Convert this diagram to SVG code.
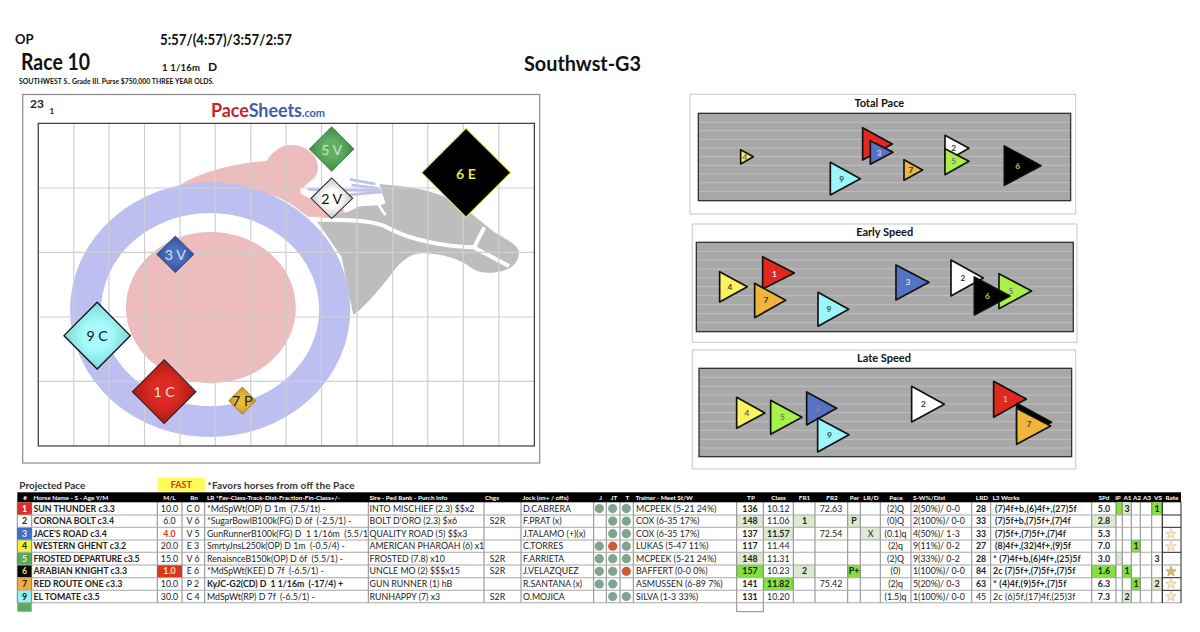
<svg xmlns="http://www.w3.org/2000/svg" width="1200" height="632" viewBox="0 0 1200 632" fill="#222">
<style>
text{font-family:Lato,"Open Sans","Liberation Sans",sans-serif;white-space:pre}
.b{font-weight:700}
.h text{fill:#fff;font-weight:700;font-size:6.4px}
.c{text-anchor:middle}
.r text{font-size:8.8px}
.panel{fill:#fff;stroke:#d4d4d4;stroke-width:4}
.plot{fill:#a8a8a8;stroke:#333;stroke-width:4}
.pl{fill:none;stroke:#c0c0c0;stroke-width:3}
.tri polygon{stroke:#111;stroke-width:5;stroke-linejoin:round}
.tri text{font-size:25px;text-anchor:middle;font-weight:700}
.ttl{font-size:33px;font-weight:700;text-anchor:middle;fill:#111}
.dm text{font-size:42px;text-anchor:middle}
.dm polygon{stroke-linejoin:miter}
.dot{fill:#7fa590}
.red{fill:#cf5a35}
.lg{fill:#dde9d2}
.bg{fill:#82e040}
.star{fill:#f8ecc8;stroke:#c9b98a;stroke-width:.6}
</style>
<defs>
<radialGradient id="g5"><stop offset=".4" stop-color="#62ae62"/><stop offset="1" stop-color="#3c8a44"/></radialGradient>
<radialGradient id="g2"><stop offset=".4" stop-color="#fff"/><stop offset="1" stop-color="#c4c4c4"/></radialGradient>
<radialGradient id="g3"><stop offset=".4" stop-color="#4a6fbc"/><stop offset="1" stop-color="#2f4f98"/></radialGradient>
<radialGradient id="g9"><stop offset=".4" stop-color="#a6fcfc"/><stop offset="1" stop-color="#7fd6d8"/></radialGradient>
<radialGradient id="g1"><stop offset=".4" stop-color="#dd2a22"/><stop offset="1" stop-color="#a81a16"/></radialGradient>
<radialGradient id="g7"><stop offset=".4" stop-color="#e9b93c"/><stop offset="1" stop-color="#c09428"/></radialGradient>
<polygon id="star" points="0,-5.4 1.4,-1.7 5.3,-1.7 2.2,.7 3.3,4.4 0,2.2 -3.3,4.4 -2.2,.7 -5.3,-1.7 -1.4,-1.7"/>
</defs>
<rect width="1200" height="632" fill="#fff"/>

<g id="header" fill="#111">
<text x="15" y="44" class="b" font-size="13">OP</text>
<text x="160" y="45" class="b" font-size="14.5" textLength="132" lengthAdjust="spacingAndGlyphs">5:57/(4:57)/3:57/2:57</text>
<text x="21" y="70" class="b" font-size="22" textLength="69" lengthAdjust="spacingAndGlyphs">Race 10</text>
<text x="162" y="70.5" class="b" font-size="9.5" textLength="38">1 1/16m</text>
<text x="208" y="70.5" class="b" font-size="12">D</text>
<text x="19" y="84.3" class="b" font-size="6.6" textLength="195" lengthAdjust="spacingAndGlyphs">SOUTHWEST S.. Grade III. Purse $750,000 THREE YEAR OLDS.</text>
<text x="524" y="71" class="b" font-size="20" textLength="117" lengthAdjust="spacingAndGlyphs">Southwst-G3</text>
</g>

<g id="pace-chart">
<rect x="22.7" y="94.5" width="517" height="368.5" fill="#fff" stroke="#8a8a8a" stroke-width="1.2"/>
<text x="30" y="108" class="b" font-size="12">23</text>
<text x="49.5" y="114" class="b" font-size="8">1</text>
<text x="211" y="117" class="b" font-size="18" textLength="114"><tspan fill="#c8242c">Pace</tspan><tspan fill="#3f5ea8">Sheets</tspan><tspan fill="#3f5ea8" font-size="11">.com</tspan></text>
<g transform="translate(20 90) scale(.3384 .3333)">
<rect x="54" y="100" width="1466" height="968" fill="#fff"/>
<path fill="#edbcbc" d="M465,290C540,240 640,220 730,212C740,190 770,165 800,164C850,165 885,200 880,240C878,262 860,270 845,285L828,298L830,312C860,330 900,340 925,335C945,340 965,360 960,382L850,380C800,340 760,310 700,310L560,310Z"/>
<path fill="#bdbdbd" d="M1062,282C1120,288 1180,290 1250,318C1310,345 1350,385 1400,425C1430,445 1465,460 1473,480C1478,510 1460,530 1435,540C1400,552 1360,552 1335,535C1300,505 1240,490 1190,490C1150,490 1125,515 1095,555C1060,600 1020,650 985,675L950,500L885,405L870,385C920,380 970,370 1000,350C1040,345 1060,350 1080,340Z"/>
<g fill="none" stroke="#fff" stroke-width="12"><path d="M850,388C940,392 1040,385 1090,415C1150,450 1260,470 1340,472L1445,528"/><path d="M1372,412L1340,476"/><path d="M1060,345L1080,375" stroke-width="8"/></g>
<g fill="none" stroke="#bcbff0" stroke-width="8"><path d="M975,268L1050,282"/><path d="M850,298L1065,302"/><path d="M970,315L1075,305"/><path d="M980,285L1060,295"/></g>
<ellipse cx="562" cy="659" rx="368" ry="336" fill="none" stroke="#bcbff0" stroke-width="92"/>
<ellipse cx="564" cy="653" rx="251" ry="227" fill="#edbcbc"/>
<path fill="none" stroke="#cfcfcf" stroke-width="3.5" d="M159,100V1068M263,100V1068M368,100V1068M473,100V1068M577,100V1068M682,100V1068M786,100V1068M891,100V1068M996,100V1068M1101,100V1068M1205,100V1068M1310,100V1068M1415,100V1068M54,294H1520M54,487H1520M54,681H1520M54,874H1520"/>
<rect x="54" y="100" width="1466" height="968" fill="none" stroke="#333" stroke-width="3.5"/>
<g id="d5" class="dm"><polygon points="921,110 987,177 921,244 855,177" fill="url(#g5)" stroke="#2f6a36" stroke-width="2"/><text x="921" y="194" fill="#c9e4c9">5 V</text></g>
<g id="d2" class="dm"><polygon points="921,264 983,325 921,386 860,325" fill="url(#g2)" stroke="#222" stroke-width="3"/><text x="921" y="342" fill="#111">2 V</text></g>
<g id="d6" class="dm"><polygon points="1318,115 1450,248 1318,381 1187,248" fill="#000" stroke="#e6e65a" stroke-width="3"/><text x="1318" y="266" fill="#e8de5a" font-weight="700">6 E</text></g>
<g id="d3" class="dm"><polygon points="459,438 514,493 459,548 404,493" fill="url(#g3)" stroke="#243c74" stroke-width="2"/><text x="459" y="510" fill="#d8e2f4">3 V</text></g>
<g id="d9" class="dm"><polygon points="228,637 326,737 228,837 130,737" fill="url(#g9)" stroke="#111" stroke-width="4"/><text x="228" y="754" fill="#111">9 C</text></g>
<g id="d1" class="dm"><polygon points="426,809 520,905 426,1001 332,905" fill="url(#g1)" stroke="#222" stroke-width="3"/><text x="426" y="922" fill="#f4dcdc">1 C</text></g>
<g id="d7" class="dm"><polygon points="657,891 697,932 657,973 617,932" fill="url(#g7)" stroke="#8a6a1e" stroke-width="2"/><text x="657" y="948" fill="#222">7 P</text></g>
</g>
</g>

<g id="total-pace" transform="translate(685 90) scale(.3333)">
<rect class="panel" x="15" y="13" width="1157" height="359"/>
<text class="ttl" x="583" y="50">Total Pace</text>
<rect class="plot" x="40" y="70" width="1117" height="262"/>
<path class="pl" d="M42,97H1155M42,122H1155M42,148H1155M42,174H1155M42,200H1155M42,226H1155M42,252H1155M42,278H1155M42,305H1155"/>
<g class="tri">
<g><polygon points="167,179 167,222 205,200" fill="#fbf35e"/><text x="180" y="209" fill="#666">4</text></g>
<g><polygon points="533,113 533,210 622,162" fill="#e0281f"/><text x="565" y="171" fill="#eee">1</text></g>
<g><polygon points="556,152 556,223 624,187" fill="#5573c4"/><text x="582" y="197" fill="#ccc">3</text></g>
<g><polygon points="780,136 780,215 852,175" fill="#fff"/><text x="806" y="184" fill="#333">2</text></g>
<g><polygon points="780,176 780,254 852,214" fill="#a8f04a"/><text x="806" y="223" fill="#777">5</text></g>
<g><polygon points="958,168 958,286 1068,227" fill="#000"/><text x="998" y="236" fill="#d4c838">6</text></g>
<g><polygon points="657,209 657,271 713,240" fill="#f0b63c"/><text x="678" y="249" fill="#333">7</text></g>
<g><polygon points="436,217 436,315 526,266" fill="#9af7fb"/><text x="470" y="275" fill="#444">9</text></g>
</g>
</g>

<g id="early-speed" transform="translate(685 220) scale(.3333)">
<rect class="panel" x="22" y="12" width="1154" height="355"/>
<text class="ttl" x="599" y="47">Early Speed</text>
<rect class="plot" x="34" y="67" width="1131" height="268"/>
<path class="pl" d="M36,94H1163M36,120H1163M36,147H1163M36,174H1163M36,200H1163M36,227H1163M36,254H1163M36,281H1163M36,308H1163"/>
<g class="tri">
<g><polygon points="104,155 104,246 187,200" fill="#fbf35e"/><text x="135" y="209" fill="#444">4</text></g>
<g><polygon points="233,110 233,207 328,159" fill="#e0281f"/><text x="268" y="170" fill="#eee">1</text></g>
<g><polygon points="209,190 209,293 302,241" fill="#f0b63c"/><text x="243" y="250" fill="#333">7</text></g>
<g><polygon points="399,217 399,319 491,268" fill="#9af7fb"/><text x="432" y="277" fill="#444">9</text></g>
<g><polygon points="633,135 633,240 732,187" fill="#5573c4"/><text x="669" y="196" fill="#ddd">3</text></g>
<g><polygon points="798,120 798,228 895,174" fill="#fff"/><text x="834" y="183" fill="#333">2</text></g>
<g><polygon points="942,161 942,266 1040,213" fill="#a8f04a"/><text x="978" y="222" fill="#777">5</text></g>
<g><polygon points="868,171 868,285 975,228" fill="#000"/><text x="907" y="237" fill="#d4c838">6</text></g>
</g>
</g>

<g id="late-speed" transform="translate(685 345) scale(.3333)">
<rect class="panel" x="22" y="15" width="1150" height="357"/>
<text class="ttl" x="597" y="50">Late Speed</text>
<rect class="plot" x="42" y="70" width="1118" height="265"/>
<path class="pl" d="M44,97H1158M44,124H1158M44,150H1158M44,177H1158M44,203H1158M44,230H1158M44,256H1158M44,283H1158M44,309H1158"/>
<g class="tri">
<g><polygon points="155,157 155,250 240,204" fill="#fbf35e"/><text x="186" y="213" fill="#666">4</text></g>
<g><polygon points="257,166 257,268 351,217" fill="#a8f04a"/><text x="292" y="226" fill="#777">5</text></g>
<g><polygon points="365,141 365,240 455,190" fill="#5573c4"/><text x="397" y="199" fill="#888">3</text></g>
<g><polygon points="398,219 398,321 492,269" fill="#9af7fb"/><text x="433" y="278" fill="#444">9</text></g>
<g><polygon points="680,124 680,231 778,178" fill="#fff"/><text x="715" y="187" fill="#333">2</text></g>
<g><polygon points="926,109 926,217 1024,162" fill="#e0281f"/><text x="961" y="171" fill="#bbb">1</text></g>
<g><polygon points="995,175 995,285 1100,232" fill="#000"/><text x="1032" y="237" fill="#888">6</text></g>
<g><polygon points="995,190 995,298 1097,243" fill="#f0b63c"/><text x="1032" y="246" fill="#444">7</text></g>
</g>
</g>

<g id="projected">
<text x="19.3" y="489" class="b" font-size="10" fill="#333" textLength="66">Projected Pace</text>
<rect x="157.7" y="477.7" width="47.3" height="14" fill="#fdfb55"/>
<text x="181.3" y="487.5" class="b c" font-size="9" fill="#c9361f">FAST</text>
<text x="207.6" y="489" class="b" font-size="10" fill="#333" textLength="147">*Favors horses from off the Pace</text>
</g>

<g id="table">
<rect x="17.3" y="492.3" width="1163.7" height="10" fill="#000"/>
<g id="fills">
<rect x="17.3" y="502.3" width="14.4" height="12.7" fill="#d8302a"/>
<rect x="17.3" y="527.3" width="14.4" height="12.7" fill="#3f6fc0"/>
<rect x="17.3" y="540" width="14.4" height="12.3" fill="#f4ef3d"/>
<rect x="17.3" y="552.3" width="14.4" height="12.7" fill="#5aa85a"/>
<rect x="17.3" y="565" width="14.4" height="12.7" fill="#000"/>
<rect x="17.3" y="577.7" width="14.4" height="12.6" fill="#f5ab3a"/>
<rect x="17.3" y="590.3" width="14.4" height="12.4" fill="#8ef4f4"/>
<rect x="17.3" y="602.7" width="14.4" height="9" fill="#5fa860"/>
<rect x="157.3" y="565" width="24.7" height="12.7" fill="#d8371f"/>
<rect class="lg" x="736.7" y="515" width="26.6" height="12.3"/>
<rect class="lg" x="736.7" y="552.3" width="26.6" height="12.7"/>
<rect class="bg" x="736.7" y="565" width="26.6" height="12.7"/>
<rect class="lg" x="763.3" y="527.3" width="30" height="12.7"/>
<rect class="bg" x="763.3" y="577.7" width="30" height="12.6"/>
<rect class="lg" x="793.3" y="515" width="21.7" height="12.3"/>
<rect class="lg" x="793.3" y="565" width="21.7" height="12.7"/>
<rect class="lg" x="847.7" y="515" width="12.6" height="12.3"/>
<rect class="bg" x="847.7" y="565" width="12.6" height="12.7"/>
<rect class="lg" x="860.3" y="527.3" width="20" height="12.7"/>
<rect class="lg" x="1091.7" y="515" width="24.3" height="12.3"/>
<rect class="bg" x="1091.7" y="565" width="24.3" height="12.7"/>
<rect class="bg" x="1116" y="502.3" width="6.3" height="12.7"/>
<rect class="lg" x="1116" y="552.3" width="6.3" height="12.7"/>
<rect class="lg" x="1122.3" y="502.3" width="9" height="12.7"/>
<rect class="bg" x="1122.3" y="565" width="9" height="12.7"/>
<rect class="lg" x="1122.3" y="590.3" width="9" height="12.4"/>
<rect class="bg" x="1131.3" y="540" width="9" height="12.3"/>
<rect class="bg" x="1131.3" y="577.7" width="9" height="12.6"/>
<rect class="bg" x="1151.7" y="502.3" width="10.6" height="12.7"/>
<rect class="lg" x="1151.7" y="577.7" width="10.6" height="12.6"/>
</g>
<path id="rules-v" fill="none" stroke="#555" stroke-width=".7" d="M17.3,502V603M31.7,502V603M157.3,502V603M182,502V603M204.7,502V603M368.3,502V603M484,502V603M521,502V603M593.7,502V603M606.3,502V603M620,502V603M633.3,502V603M736.7,502V612M763.3,502V612M793.3,502V603M815,502V603M847.7,502V603M860.3,502V603M880.3,502V603M911,502V603M971.7,502V603M990.7,502V603M1091.7,502V603M1116,502V603M1122.3,502V603M1131.3,502V603M1140.3,502V603M1151.7,502V603M1162.3,502V603"/>
<path fill="none" stroke="#555" stroke-width=".7" d="M736.7,611.7H763.3"/>
<path id="rules-h" fill="none" stroke="#a8a8a8" stroke-width="1.1" d="M17.3,515H1162M17.3,527.3H1162M17.3,540H1162M17.3,552.3H1162M17.3,565H1162M17.3,577.7H1162M17.3,590.3H1162M17.3,602.7H1181"/>
<path fill="none" stroke="#222" stroke-width="1" d="M1162.3,502V603M1181,502V603M1162.3,515H1181M1162.3,527.3H1181M1162.3,590.3H1181M1162.3,577.7H1181M1162.3,552.3H1181"/>
<path fill="none" stroke="#999" stroke-width="1" d="M1162.3,540H1181M1162.3,565H1181"/>

<g class="h" id="thead">
<text x="25" y="500" class="c">#</text><text x="33.5" y="500">Horse Name - S - Age Y/M</text><text x="169.5" y="500" class="c">M/L</text><text x="194" y="500" class="c">Rn</text><text x="207" y="500">LR *Fav-Class-Track-Dist-Fraction-Fin-Class+/-</text><text x="369.5" y="500">Sire - Ped Rank - Purch Info</text><text x="492" y="500" class="c">Chgs</text><text x="522.5" y="500">Jock (on+ / offx)</text><text x="600.5" y="500" class="c">J</text><text x="614" y="500" class="c">JT</text><text x="627.5" y="500" class="c">T</text><text x="635.5" y="500">Trainer - Meet St/W</text><text x="751" y="500" class="c">TP</text><text x="778.5" y="500" class="c">Class</text><text x="804.5" y="500" class="c">FR1</text><text x="832" y="500" class="c">FR2</text><text x="854.5" y="500" class="c">Par</text><text x="871" y="500" class="c">LR/D</text><text x="896" y="500" class="c">Pace</text><text x="913" y="500">S-W%/Dist</text><text x="982" y="500" class="c">LRD</text><text x="992.5" y="500">L3 Works</text><text x="1104" y="500" class="c">SPd</text><text x="1118" y="500" class="c">iP</text><text x="1127.5" y="500" class="c">A1</text><text x="1137" y="500" class="c">A2</text><text x="1147" y="500" class="c">A3</text><text x="1158" y="500" class="c">VS</text><text x="1172" y="500" class="c">Rate</text>
</g>

<g class="r" id="r1" transform="translate(0 511.8)"><text x="24.5" class="b c" fill="#fff">1</text><text x="33.5" class="b">SUN THUNDER c3.3</text><text x="169.5" class="c">10.0</text><text x="193" class="c">C 0</text><text x="207" textLength="118.7">*MdSpWt(OP) D 1m  (7.5/1t) -</text><text x="369.5">INTO MISCHIEF (2.3) $$x2</text><text x="523">D.CABRERA</text><text x="636">MCPEEK (5-21 24%)</text><text x="750" class="b c">136</text><text x="778.3" class="c">10.12</text><text x="831" class="c">72.63</text><text x="895.5" class="c">(2)Q</text><text x="913">2(50%)/ 0-0</text><text x="981" class="b c">28</text><text x="995" class="b" textLength="81.7">(7)4f+b,(6)4f+,(27)5f</text><text x="1104" class="b c">5.0</text><text x="1127" class="b c">3</text><text x="1157" class="b c">1</text></g>
<g class="r" id="r2" transform="translate(0 524.3)"><text x="24.5" class="b c">2</text><text x="33.5" class="b">CORONA BOLT c3.4</text><text x="169.5" class="c">6.0</text><text x="193" class="c">V 6</text><text x="207" textLength="144.3">*SugarBowlB100k(FG) D 6f  (-2.5/1) -</text><text x="369.5">BOLT D'ORO (2.3) $x6</text><text x="497.5" class="c">S2R</text><text x="523">F.PRAT (x)</text><text x="636">COX (6-35 17%)</text><text x="750" class="b c">148</text><text x="778.3" class="c">11.06</text><text x="804.5" class="b c">1</text><text x="854" class="b c">P</text><text x="895.5" class="c">(0)Q</text><text x="913">2(100%)/ 0-0</text><text x="981" class="b c">33</text><text x="995" class="b" textLength="75.7">(7)5f+b,(7)5f+,(7)4f</text><text x="1104" class="b c">2.8</text></g>
<g class="r" id="r3" transform="translate(0 536.9)"><text x="24.5" class="b c" fill="#dfe8f8">3</text><text x="33.5" class="b">JACE'S ROAD c3.4</text><text x="169.5" class="b c" fill="#d8342c">4.0</text><text x="193" class="c">V 5</text><text x="207" textLength="161">GunRunnerB100k(FG) D  1 1/16m  (5.5/1</text><text x="369.5">QUALITY ROAD (5) $$x3</text><text x="523">J.TALAMO (+)(x)</text><text x="636">COX (6-35 17%)</text><text x="750" class="b c">137</text><text x="778.3" class="b c">11.57</text><text x="831" class="c">72.54</text><text x="870.5" class="c">X</text><text x="895.5" class="c">(0.1)q</text><text x="913">4(50%)/ 1-3</text><text x="981" class="b c">33</text><text x="995" class="b" textLength="71">(7)5f+,(7)5f+,(7)4f</text><text x="1104" class="b c">5.3</text></g>
<g class="r" id="r4" transform="translate(0 549.3)"><text x="24.5" class="b c">4</text><text x="33.5" class="b">WESTERN GHENT c3.2</text><text x="169.5" class="c">20.0</text><text x="193" class="c">E 3</text><text x="207" textLength="137.7">SmrtyJnsL250k(OP) D 1m  (-0.5/4) -</text><text x="369.5">AMERICAN PHAROAH (6) x1</text><text x="523">C.TORRES</text><text x="636">LUKAS (5-47 11%)</text><text x="750" class="b c">117</text><text x="778.3" class="c">11.44</text><text x="895.5" class="c">(2)q</text><text x="913">9(11%)/ 0-2</text><text x="981" class="b c">27</text><text x="995" class="b" textLength="76">(8)4f+,(32)4f+,(9)5f</text><text x="1104" class="b c">7.0</text><text x="1136" class="b c">1</text></g>
<g class="r" id="r5" transform="translate(0 561.8)"><text x="24.5" class="b c" fill="#dff0df">5</text><text x="33.5" class="b" textLength="106">FROSTED DEPARTURE c3.5</text><text x="169.5" class="c">15.0</text><text x="193" class="c">V 6</text><text x="207" textLength="136">RenaisnceB150k(OP) D 6f  (5.5/1) -</text><text x="369.5">FROSTED (7.8) x10</text><text x="497.5" class="c">S2R</text><text x="523">F.ARRIETA</text><text x="636">MCPEEK (5-21 24%)</text><text x="750" class="b c">148</text><text x="778.3" class="c">11.31</text><text x="895.5" class="c">(2)Q</text><text x="913">9(33%)/ 0-2</text><text x="981" class="b c">28</text><text x="993" class="b" textLength="87.7">* (7)4f+b,(6)4f+,(25)5f</text><text x="1104" class="b c">3.0</text><text x="1157" class="b c">3</text></g>
<g class="r" id="r6" transform="translate(0 574.4)"><text x="24.5" class="b c" fill="#e8de5a">6</text><text x="33.5" class="b">ARABIAN KNIGHT c3.3</text><text x="169.5" class="b c" fill="#f6e6b0">1.0</text><text x="193" class="c">E 6</text><text x="207" textLength="116.7">*MdSpWt(KEE) D 7f  (-6.5/1) -</text><text x="369.5">UNCLE MO (2) $$$x15</text><text x="497.5" class="c">S2R</text><text x="523">J.VELAZQUEZ</text><text x="636">BAFFERT (0-0 0%)</text><text x="750" class="b c">157</text><text x="778.3" class="c">10.23</text><text x="804.5" class="b c">2</text><text x="854" class="b c">P+</text><text x="895.5" class="c">(0)</text><text x="913">1(100%)/ 0-0</text><text x="981" class="b c">84</text><text x="993" class="b" textLength="82.3">2c (7)5f+,(7)5f+,(7)5f</text><text x="1104" class="b c">1.6</text><text x="1127" class="b c">1</text></g>
<g class="r" id="r7" transform="translate(0 587)"><text x="24.5" class="b c">7</text><text x="33.5" class="b">RED ROUTE ONE c3.3</text><text x="169.5" class="c">10.0</text><text x="193" class="c">P 2</text><text x="207" class="b" textLength="136">KyJC-G2(CD) D  1 1/16m  (-17/4) +</text><text x="369.5">GUN RUNNER (1) hB</text><text x="523">R.SANTANA (x)</text><text x="636">ASMUSSEN (6-89 7%)</text><text x="750" class="b c">141</text><text x="778.3" class="b c">11.82</text><text x="831" class="c">75.42</text><text x="895.5" class="c">(2)q</text><text x="913">5(20%)/ 0-3</text><text x="981" class="b c">63</text><text x="993" class="b" textLength="73.3">* (4)4f,(9)5f+,(7)5f</text><text x="1104" class="b c">6.3</text><text x="1136" class="b c">1</text><text x="1157" class="b c">2</text></g>
<g class="r" id="r9" transform="translate(0 599.6)"><text x="24.5" class="b c">9</text><text x="33.5" class="b">EL TOMATE c3.5</text><text x="169.5" class="c">30.0</text><text x="193" class="c">C 4</text><text x="207" textLength="107.7">MdSpWt(RP) D 7f  (-6.5/1) -</text><text x="369.5">RUNHAPPY (7) x3</text><text x="497.5" class="c">S2R</text><text x="523">O.MOJICA</text><text x="636">SILVA (1-3 33%)</text><text x="750" class="b c">131</text><text x="778.3" class="c">10.20</text><text x="895.5" class="c">(1.5)q</text><text x="913">1(100%)/ 0-0</text><text x="981" class="c">45</text><text x="993" textLength="82.3">2c (6)5f,(17)4f,(25)3f</text><text x="1104" class="b c">7.3</text><text x="1127" class="b c">2</text></g>

<g id="dots">
<circle class="dot" cx="599.3" cy="508.6" r="4.6"/><circle class="dot" cx="612.7" cy="508.6" r="4.6"/><circle class="dot" cx="626.3" cy="508.6" r="4.6"/>
<circle class="dot" cx="612.7" cy="521.1" r="4.6"/><circle class="dot" cx="626.3" cy="521.1" r="4.6"/>
<circle class="dot" cx="612.7" cy="533.7" r="4.6"/><circle class="dot" cx="626.3" cy="533.7" r="4.6"/>
<circle class="dot" cx="599.3" cy="546.2" r="4.6"/><circle class="red" cx="612.7" cy="546.2" r="4.6"/><circle class="dot" cx="626.3" cy="546.2" r="4.6"/>
<circle class="dot" cx="599.3" cy="558.7" r="4.6"/><circle class="dot" cx="612.7" cy="558.7" r="4.6"/><circle class="dot" cx="626.3" cy="558.7" r="4.6"/>
<circle class="dot" cx="599.3" cy="571.3" r="4.6"/><circle class="dot" cx="612.7" cy="571.3" r="4.6"/><circle class="red" cx="626.3" cy="571.3" r="4.6"/>
<circle class="dot" cx="599.3" cy="584" r="4.6"/><circle class="dot" cx="612.7" cy="584" r="4.6"/>
<circle class="dot" cx="612.7" cy="596.5" r="4.6"/><circle class="dot" cx="626.3" cy="596.5" r="4.6"/>
</g>
<g id="stars">
<use href="#star" class="star" x="1171" y="534"/>
<use href="#star" class="star" x="1171" y="546.5"/>
<use href="#star" x="1171" y="571.5" fill="#e3bb6a" stroke="#b5924a" stroke-width=".6"/>
<use href="#star" class="star" x="1171" y="584"/>
<use href="#star" class="star" x="1171" y="596.5"/>
</g>
</g>
</svg>
